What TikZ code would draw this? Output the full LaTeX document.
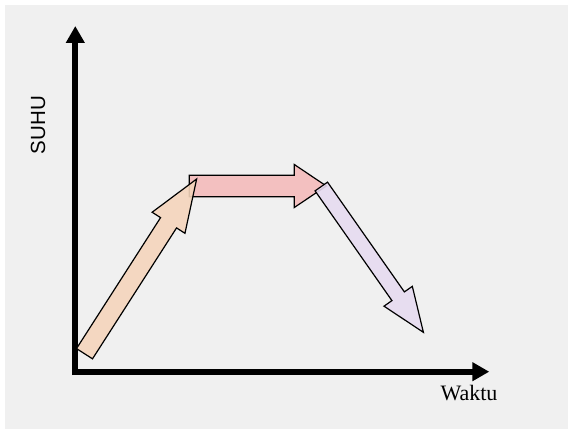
\documentclass[tikz,border=0pt]{standalone}
\usepackage{fontspec}
\setmainfont{Liberation Serif}
\newfontfamily\arialfont{Liberation Sans}
\usepackage{xcolor}
\usetikzlibrary{arrows.meta}

\definecolor{bggray}{HTML}{F0F0F0}
\definecolor{peach}{HTML}{F5D5BC}
\definecolor{rosepink}{HTML}{F4BBBB}
\definecolor{lilac}{HTML}{E7DBF0}

\begin{document}
\begin{tikzpicture}[
  x=1pt, y=1pt,
  axis/.style  = {line width=6pt, -{Triangle[length=17pt,width=18pt]}},
  blk/.style   = {draw=black, line width=1.2pt, fill=#1, fill opacity=0.9,
                  line join=miter},
  ylabel/.style = {font=\arialfont\fontsize{20.5}{24}\selectfont, inner sep=0pt},
  xlabel/.style = {font=\fontsize{22}{26}\selectfont, inner sep=0pt}
]

% background
\fill[white] (0,0) rectangle (568,429);
\fill[bggray] (5,0) rectangle (568,424);

% axes
\coordinate (O)    at (75.3,54);
\coordinate (Ytop) at (75.3,403);
\coordinate (Xo)   at (72.3,57.3);
\coordinate (Xend) at (489.3,57.3);
\draw[axis] (O) -- (Ytop);
\draw[axis] (Xo) -- (Xend);

\node[ylabel, rotate=90] (suhu) at (38,304) {SUHU};
\node[xlabel, anchor=base] (waktu) at (469,28.3) {Waktu};

% holding
\begin{scope}[shift={(189.3,243)}]
  \draw[blk=rosepink] (0,-10.8) -- (105,-10.8) -- (105,-21.5) -- (137,0)
    -- (105,21.5) -- (105,10.8) -- (0,10.8) -- cycle;
\end{scope}

% heating
\begin{scope}[shift={(84.5,75.3)}, rotate=57.3]
  \draw[blk=peach] (0,-9.5) -- (155.6,-9.5) -- (155.6,-19.5) -- (207.6,0)
    -- (155.6,19.5) -- (155.6,9.5) -- (0,9.5) -- cycle;
\end{scope}

% cooling
\begin{scope}[shift={(321.3,242.5)}, rotate=-55]
  \draw[blk=lilac] (0,-7.6) -- (134,-7.6) -- (134,-17.3) -- (178,0)
    -- (134,17.3) -- (134,7.6) -- (0,7.6) -- cycle;
\end{scope}

\end{tikzpicture}
\end{document}
